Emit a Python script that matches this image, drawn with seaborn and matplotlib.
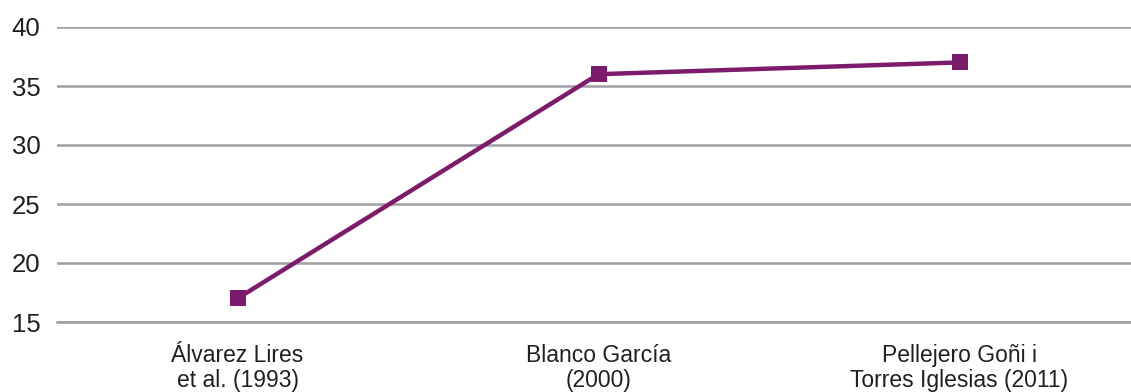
import pandas as pd
import matplotlib.pyplot as plt
import seaborn as sns

# data
studies = ['Álvarez Lires\net al. (1993)', 'Blanco García\n(2000)',
           'Pellejero Goñi i\nTorres Iglesias (2011)']
values = [17, 36, 37]

df = pd.DataFrame({'study': studies, 'value': values})

sns.set_style('white')
plt.rcParams['font.family'] = ['Liberation Sans', 'DejaVu Sans']

LINE = '#7c1a6b'
GRID = '#9e9ea3'
TEXT = '#231f20'

fig = plt.figure(figsize=(11.31, 3.92), dpi=100)
ax = fig.add_axes([57 / 1131, 70 / 392, 1 - 57 / 1131, 295 / 392])

sns.lineplot(data=df, x='study', y='value', sort=False, ax=ax,
             color=LINE, linewidth=3.2, marker='s', markersize=12,
             markeredgewidth=0, markerfacecolor=LINE)

ax.set_ylim(15, 40)
ax.set_yticks([15, 20, 25, 30, 35, 40])
ax.set_xlim(-0.5, 2.475)

# gridlines
ax.yaxis.grid(True, color=GRID, linewidth=1.8)
ax.xaxis.grid(False)
ax.set_axisbelow(True)

for s in ['top', 'right', 'left']:
    ax.spines[s].set_visible(False)
ax.spines['bottom'].set_color(GRID)
ax.spines['bottom'].set_linewidth(1.8)

# category separators
ax.set_xticks([-0.5, 0.5, 1.5], minor=True)
ax.tick_params(axis='x', which='minor', direction='in', length=6,
               width=1.4, color=GRID)
ax.tick_params(axis='x', which='major', length=0, pad=16,
               labelsize=16.5, labelcolor=TEXT)
ax.tick_params(axis='y', length=0, pad=12, labelsize=18.5, labelcolor=TEXT)
for lbl in ax.get_xticklabels():
    lbl.set_multialignment('center')
    lbl.set_linespacing(1.1)

ax.set_xlabel('')
ax.set_ylabel('')

fig.savefig('out.png', dpi=100)
